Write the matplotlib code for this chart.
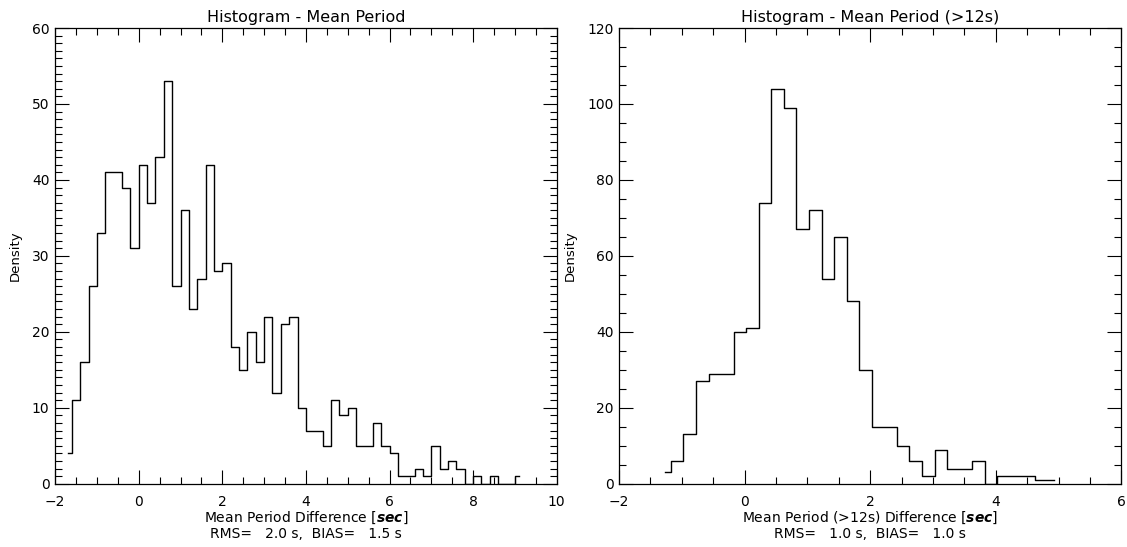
import numpy as np
import matplotlib
matplotlib.use("Agg")
import matplotlib.pyplot as plt
from matplotlib.ticker import MultipleLocator

plt.rcParams['font.family'] = ['DejaVu Sans']
plt.rcParams['mathtext.fontset'] = 'dejavusans'

# bin centres / counts, left panel (all periods)
left_start = -1.7
left_counts = [4, 11, 16, 26, 33, 41, 41, 39, 31, 42,
               37, 43, 53, 26, 36, 23, 27, 42, 28, 29,
               18, 15, 20, 16, 22, 12, 21, 22, 10, 7,
               7, 5, 11, 9, 10, 5, 5, 8, 5, 4,
               1, 1, 2, 1, 5, 2, 3, 2, 0, 1,
               0, 1, 0, 0, 1]

# right panel (>12s)
right_start = -1.275
right_counts = [3, 6, 13, 27, 29, 29, 40, 41, 74, 104,
                99, 67, 72, 54, 65, 48, 30, 15, 15, 10,
                6, 2, 9, 4, 4, 6, 0, 2, 2, 2,
                1, 1]
binsize = 0.2

titles = ['Histogram - Mean Period', 'Histogram - Mean Period (>12s)']
xlabels = [r'Mean Period Difference $\left[\mathbfit{sec}\right]$',
           r'Mean Period (>12s) Difference $\left[\mathbfit{sec}\right]$']
stats = ['RMS=   2.0 s,  BIAS=   1.5 s', 'RMS=   1.0 s,  BIAS=   1.0 s']

fig = plt.figure(figsize=(11.27, 5.47), dpi=100)
ax1 = fig.add_axes([0.0489, 0.1157, 0.4451, 0.8331])
ax2 = fig.add_axes([0.5493, 0.1157, 0.4457, 0.8331])

panels = [
    (ax1, left_start, left_counts, (-2, 10), (0, 60), 2, 0.5, 10, 1, -0.066),
    (ax2, right_start, right_counts, (-2, 6), (0, 120), 2, 0.5, 20, 5, -0.085),
]

for i, (ax, x0, counts, xl, yl, xmaj, xmin, ymaj, ymin, ylx) in enumerate(panels):
    centers = x0 + binsize * np.arange(len(counts))
    ax.step(centers, counts, where='mid', color='black', lw=1.0)
    ax.set_xlim(*xl)
    ax.set_ylim(*yl)
    ax.xaxis.set_major_locator(MultipleLocator(xmaj))
    ax.xaxis.set_minor_locator(MultipleLocator(xmin))
    ax.yaxis.set_major_locator(MultipleLocator(ymaj))
    ax.yaxis.set_minor_locator(MultipleLocator(ymin))
    ax.tick_params(which='both', direction='in', top=True, right=True,
                   width=0.8, labelsize=10)
    ax.tick_params(which='major', length=10)
    ax.tick_params(which='minor', length=5)
    ax.tick_params(axis='x', which='major', pad=8)
    ax.tick_params(axis='y', which='major', pad=4)
    for s in ax.spines.values():
        s.set_linewidth(0.9)
    ax.set_title(titles[i], fontsize=11.5, pad=4)
    ax.set_ylabel('Density', fontsize=9.5)
    ax.yaxis.set_label_coords(ylx, 0.5)
    ax.text(0.5, -0.075, xlabels[i], transform=ax.transAxes,
            ha='center', va='center', fontsize=10)
    ax.text(0.5, -0.111, stats[i], transform=ax.transAxes,
            ha='center', va='center', fontsize=10)

fig.savefig('out.png', dpi=100)
